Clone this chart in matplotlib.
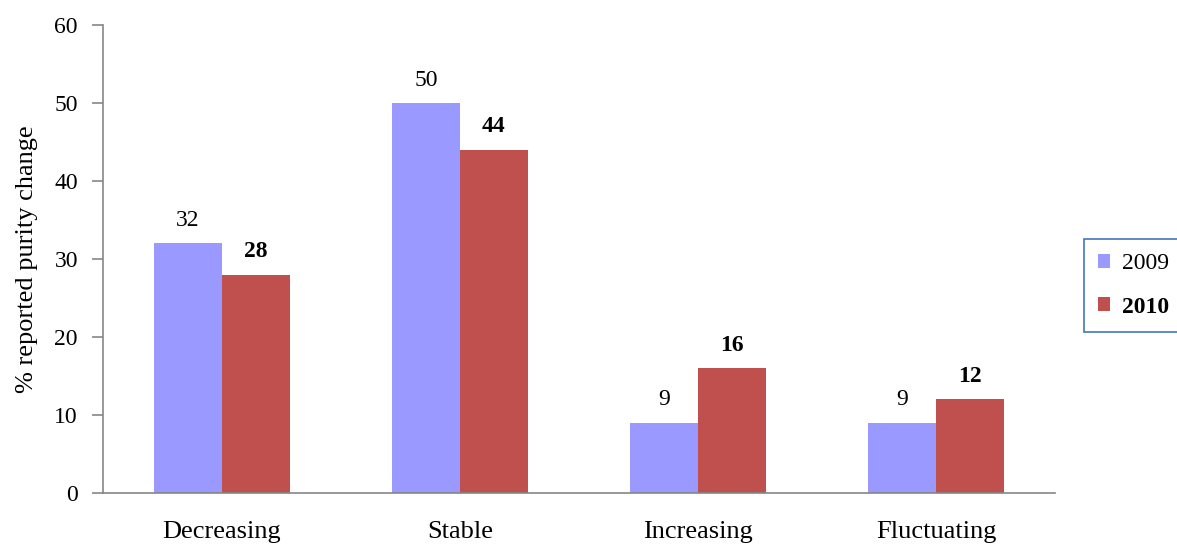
import matplotlib
matplotlib.use("Agg")
import matplotlib.pyplot as plt
from matplotlib.patches import Patch
import numpy as np

categories = ["Decreasing", "Stable", "Increasing", "Fluctuating"]
series_names = ["2009", "2010"]
values_2009 = [32, 50, 9, 9]
values_2010 = [28, 44, 16, 12]
y_ticks = [0, 10, 20, 30, 40, 50, 60]

plt.rcParams["font.family"] = ["Liberation Serif", "DejaVu Serif"]

fig = plt.figure(figsize=(11.77, 5.47), dpi=100)
ax = fig.add_axes([0.0875, 0.0987, 0.8088, 0.8556])

x = np.arange(len(categories))
w = 0.2857
c09 = "#9999FF"
c10 = "#C0504D"
ax.bar(x - w / 2, values_2009, w, color=c09, label=series_names[0])
ax.bar(x + w / 2, values_2010, w, color=c10, label=series_names[1])

num_fs = 17
txt_fs = 19
for xi, v in zip(x - w / 2, values_2009):
    ax.annotate(f"{v}", (xi, v), xytext=(0, 9), textcoords="offset points",
                ha="center", va="bottom", fontsize=num_fs)
for xi, v in zip(x + w / 2, values_2010):
    ax.annotate(f"{v}", (xi, v), xytext=(0, 9), textcoords="offset points",
                ha="center", va="bottom", fontsize=num_fs, fontweight="bold")

ax.set_xlim(-0.5, 3.5)
ax.set_ylim(0, 60)
ax.set_yticks(y_ticks)
ax.set_xticks(x)
ax.set_xticklabels(categories, fontsize=txt_fs)
ax.tick_params(axis="x", length=0, pad=20)
ax.tick_params(axis="y", labelsize=num_fs, length=8, width=1.2, color="#868686", pad=10)
for s in ["top", "right"]:
    ax.spines[s].set_visible(False)
for s in ["left", "bottom"]:
    ax.spines[s].set_color("#868686")
    ax.spines[s].set_linewidth(1.2)
ax.set_ylabel("% reported purity change", fontsize=txt_fs, labelpad=12)

handles = [Patch(facecolor=c09), Patch(facecolor=c10)]
leg = fig.legend(handles, series_names, loc="upper left",
                 bbox_to_anchor=(1084 / 1177, 1 - 239 / 547), fontsize=num_fs,
                 handlelength=0.5, handleheight=0.5, handletextpad=0.5,
                 labelspacing=0.95, borderpad=0.6, borderaxespad=0,
                 fancybox=False, framealpha=1)
leg.get_frame().set_edgecolor("#4F81BD")
leg.get_frame().set_linewidth(1.3)
leg.get_texts()[1].set_fontweight("bold")

fig.savefig("out.png", dpi=100)
